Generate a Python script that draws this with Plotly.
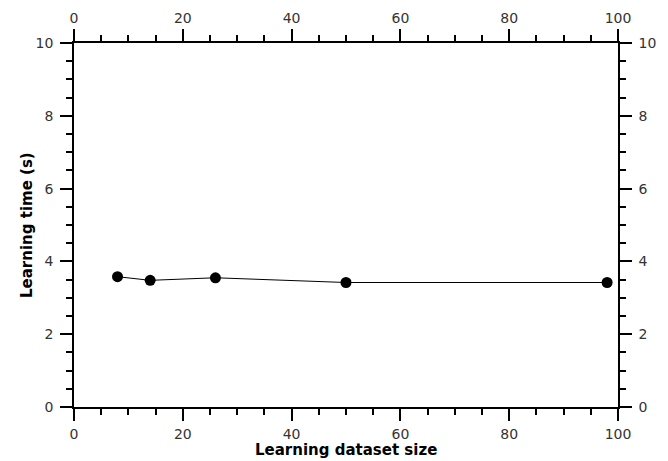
import plotly.graph_objects as go

dataset_size = [8, 14, 26, 50, 98]
learning_time = [3.58, 3.48, 3.55, 3.42, 3.42]
x_ticks = [0, 20, 40, 60, 80, 100]
y_ticks = [0, 2, 4, 6, 8, 10]

FONT = "DejaVu Sans"
fig = go.Figure()
fig.add_trace(go.Scatter(
    x=dataset_size, y=learning_time, mode="lines+markers",
    line=dict(color="black", width=1),
    marker=dict(color="black", size=11, symbol="circle"),
    showlegend=False, cliponaxis=False,
))
fig.add_trace(go.Scatter(x=[0], y=[0], xaxis="x2", yaxis="y2", mode="markers",
                         marker=dict(opacity=0), showlegend=False, hoverinfo="skip"))

common = dict(showline=True, linecolor="black", linewidth=1.5, ticks="outside",
              tickcolor="black", tickwidth=1.5, ticklen=12, showgrid=False, zeroline=False,
              automargin=False,
              tickfont=dict(family=FONT, size=14, color="#333"))
xcommon = dict(common, range=[0, 100], tickvals=x_ticks, ticklabelstandoff=1,
               minor=dict(ticks="outside", ticklen=6, dtick=5, tickcolor="black", tickwidth=1.5, showgrid=False))
ycommon = dict(common, range=[0, 10], tickvals=y_ticks, ticklabelstandoff=4,
               minor=dict(ticks="outside", ticklen=6, dtick=0.5, tickcolor="black", tickwidth=1.5, showgrid=False))

title_font = dict(family=FONT, size=15, color="black")

# page body has an 8px margin, so the figure is offset accordingly
fig.update_layout(
    width=660, height=453,
    margin=dict(l=66, r=50, t=35, b=54),
    paper_bgcolor="white", plot_bgcolor="white",
    xaxis=xcommon,
    yaxis=ycommon,
    xaxis2=dict(xcommon, overlaying="x", side="top", anchor="y"),
    yaxis2=dict(ycommon, overlaying="y", side="right", anchor="x"),
    annotations=[
        dict(text="<b>Learning dataset size</b>", xref="paper", yref="paper",
             x=0.5, y=0, xanchor="center", yanchor="middle", yshift=-43,
             showarrow=False, font=title_font),
        dict(text="<b>Learning time (s)</b>", xref="paper", yref="paper",
             x=0, y=0.5, xanchor="center", yanchor="middle", xshift=-47,
             textangle=-90, showarrow=False, font=title_font),
    ],
)
fig.write_html("out.html")
